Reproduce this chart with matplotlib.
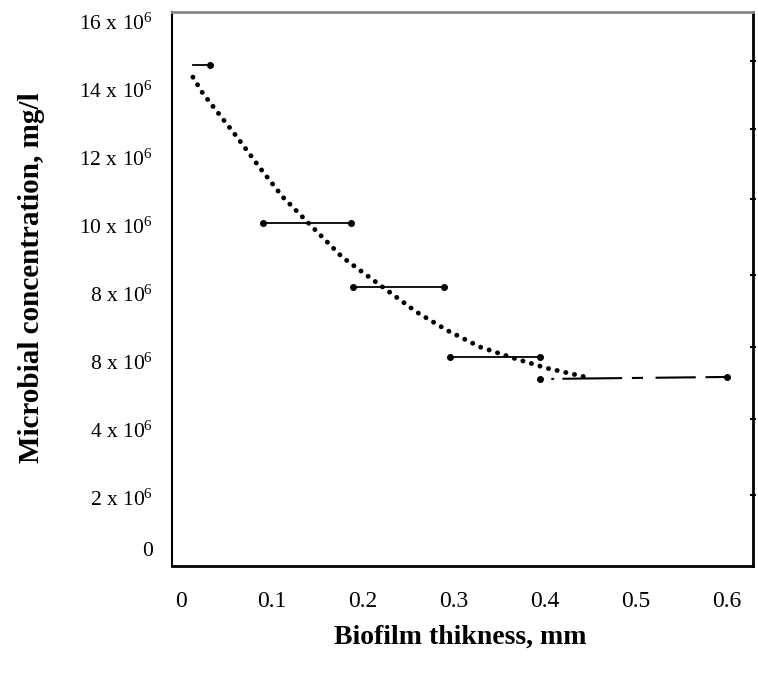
import numpy as np
import matplotlib
matplotlib.use('Agg')
import matplotlib.pyplot as plt
import matplotlib.transforms as mtransforms

plt.rcParams['font.family'] = ['Liberation Serif', 'DejaVu Serif']
plt.rcParams['mathtext.fontset'] = 'custom'
plt.rcParams['mathtext.rm'] = 'Liberation Serif'
plt.rcParams['mathtext.it'] = 'Liberation Serif:italic'
plt.rcParams['lines.scale_dashes'] = False

# step segments (biofilm thickness range, concentration in 10^6 mg/l)
seg_x0 = [0.013, 0.09, 0.189, 0.296]
seg_x1 = [0.032, 0.187, 0.289, 0.395]
seg_y = [14.75, 10.1, 8.2, 6.15]

# dotted trend curve
curve_x = [0.013, 0.024, 0.062, 0.087, 0.112, 0.14, 0.177, 0.226, 0.259,
           0.292, 0.329, 0.365, 0.402, 0.435, 0.449]
curve_y = [14.38, 13.9, 12.6, 11.7, 10.85, 10.09, 9.09, 8.12, 7.47,
           6.94, 6.44, 6.12, 5.82, 5.62, 5.53]

# last (dashed) plateau
tail_x = [0.395, 0.6]
tail_y = [5.5, 5.56]

yticks = [0, 2, 4, 6, 8, 10, 12, 14, 16]
ytick_labels = ['0', r'2 x 10$^6$', r'4 x 10$^6$', r'8 x 10$^6$', r'8 x 10$^6$',
                r'10 x 10$^6$', r'12 x 10$^6$', r'14 x 10$^6$', r'16 x 10$^6$']
xticks = [0, 0.1, 0.2, 0.3, 0.4, 0.5, 0.6]
xtick_labels = ['0', '0.1', '0.2', '0.3', '0.4', '0.5', '0.6']
right_ticks = [2.09, 4.32, 6.44, 8.56, 10.79, 12.85, 14.85]

fig = plt.figure(figsize=(7.58, 6.77), dpi=100)
ax = fig.add_axes([0.227, 0.164, 0.7664, 0.818])

scale = 1e6
for x0, x1, y in zip(seg_x0, seg_x1, seg_y):
    ax.plot([x0, x1], [y * scale, y * scale], color='black', lw=1.3)
    ax.plot([x1], [y * scale], 'o', color='black', ms=4)
    if x0 > 0.05:
        ax.plot([x0], [y * scale], 'o', color='black', ms=4)

ax.plot(curve_x, np.array(curve_y) * scale, color='black', lw=3.5,
        linestyle=(0, (0.1, 6.3)), dash_capstyle='round')

ax.plot(tail_x, np.array(tail_y) * scale, color='black', lw=1.5,
        dashes=(2, 6, 2, 6, 43, 7, 8, 9, 29, 7, 16, 1000))
ax.plot(tail_x, np.array(tail_y) * scale, 'o', color='black', ms=4)

ax.set_xlim(-0.0099, 0.629)
ax.set_ylim(0, 16.29 * scale)

ax.set_xticks(xticks)
ax.set_xticklabels(xtick_labels, fontsize=17)
ax.set_yticks([v * scale for v in yticks])
ax.set_yticklabels(ytick_labels, fontsize=15.5)
ax.tick_params(axis='both', length=0)
ax.tick_params(axis='x', pad=18)
ax.tick_params(axis='y', pad=14)

# lift the bare "0" label like in the original
lbl0 = ax.get_yticklabels()[0]
lbl0.set_transform(lbl0.get_transform() +
                   mtransforms.ScaledTranslation(0, 0.17, fig.dpi_scale_trans))

ax2 = ax.twinx()
ax2.set_ylim(ax.get_ylim())
ax2.set_yticks([v * scale for v in right_ticks])
ax2.set_yticklabels([])
ax2.tick_params(axis='y', direction='inout', length=5, width=1.5)
for s in ax2.spines.values():
    s.set_visible(False)

ax.spines['top'].set_color('#888888')
ax.spines['top'].set_linewidth(2)
ax.spines['left'].set_linewidth(1.5)
ax.spines['right'].set_linewidth(2)
ax.spines['bottom'].set_linewidth(2)

ax.set_xlabel('Biofilm thikness, mm', fontsize=20, fontweight='bold')
ax.set_ylabel('Microbial concentration, mg/l', fontsize=21, fontweight='bold')
ax.xaxis.set_label_coords(0.496, -0.106)
ax.yaxis.set_label_coords(-0.218, 0.52)

fig.savefig('out.png', dpi=100)
